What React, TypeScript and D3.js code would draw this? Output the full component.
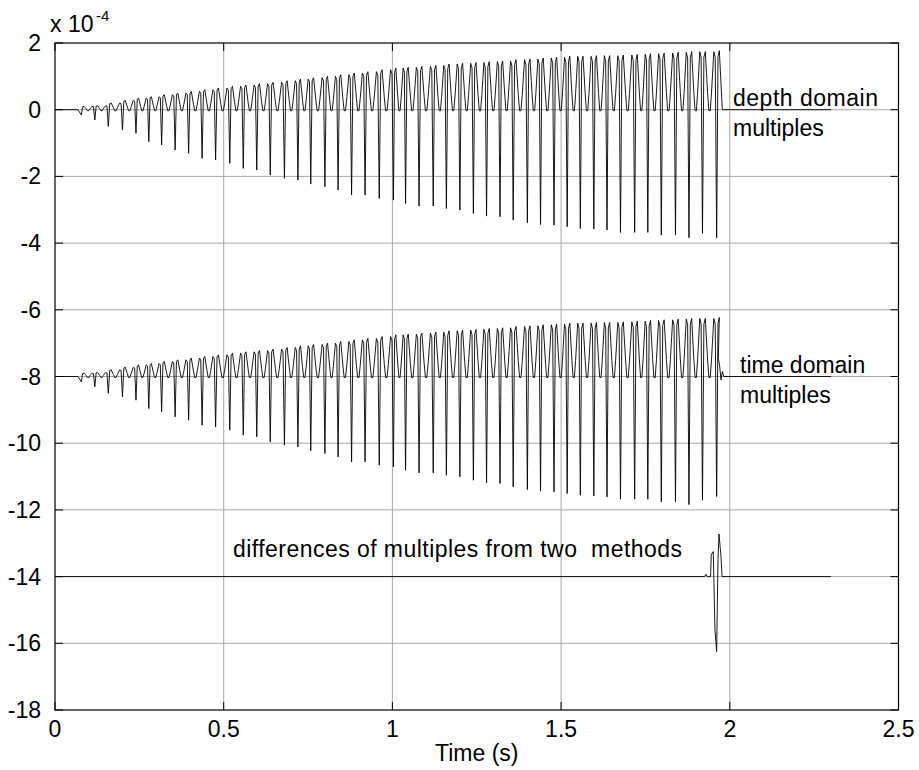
import React from "react";
import * as d3 from "d3";

const X_TICKS = [0, 0.5, 1, 1.5, 2, 2.5];
const Y_TICKS = [2, 0, -2, -4, -6, -8, -10, -12, -14, -16, -18];
const X_TICK_LABELS = ["0", "0.5", "1", "1.5", "2", "2.5"];
const Y_TICK_LABELS = ["2", "0", "-2", "-4", "-6", "-8", "-10", "-12", "-14", "-16", "-18"];

// times (s) of the downward spikes
const spikeTimes = [
  0.078, 0.118, 0.158, 0.2, 0.24, 0.278, 0.316, 0.356, 0.396, 0.436,
  0.476, 0.518, 0.558, 0.598, 0.638, 0.68, 0.72, 0.758, 0.8, 0.839,
  0.879, 0.919, 0.961, 1.003, 1.039, 1.079, 1.121, 1.16, 1.2, 1.24,
  1.279, 1.319, 1.358, 1.4, 1.439, 1.479, 1.518, 1.557, 1.597, 1.636,
  1.676, 1.718, 1.757, 1.797, 1.839, 1.879, 1.919, 1.961,
];

// depth domain multiples (x 1e-4), baseline 0
const depthTroughs = [
  -0.16, -0.31, -0.5, -0.61, -0.71, -0.96, -1.06, -1.21, -1.31, -1.46,
  -1.51, -1.61, -1.76, -1.81, -1.96, -2.06, -2.11, -2.23, -2.31, -2.41,
  -2.56, -2.56, -2.66, -2.71, -2.81, -2.89, -2.89, -2.96, -3.01, -3.11,
  -3.19, -3.21, -3.31, -3.39, -3.44, -3.46, -3.51, -3.56, -3.58, -3.61,
  -3.68, -3.68, -3.68, -3.76, -3.76, -3.84, -3.71, -3.84,
];
const depthPeaks = [
  0.1, 0.12, 0.2, 0.28, 0.35, 0.39, 0.45, 0.5, 0.55, 0.6,
  0.65, 0.7, 0.74, 0.78, 0.82, 0.87, 0.92, 0.96, 1.0, 1.05,
  1.1, 1.14, 1.2, 1.25, 1.27, 1.3, 1.33, 1.37, 1.39, 1.41,
  1.44, 1.46, 1.5, 1.52, 1.55, 1.57, 1.6, 1.6, 1.62, 1.62,
  1.64, 1.66, 1.68, 1.7, 1.72, 1.74, 1.74, 1.77,
];

// time domain multiples (x 1e-4), baseline -8
const TIME_BASE = -8;
const timeTroughs = [
  -0.16, -0.31, -0.5, -0.61, -0.71, -0.96, -1.06, -1.21, -1.31, -1.46,
  -1.51, -1.61, -1.76, -1.81, -1.96, -2.06, -2.11, -2.23, -2.31, -2.41,
  -2.56, -2.56, -2.66, -2.71, -2.81, -2.89, -2.89, -2.96, -3.01, -3.11,
  -3.19, -3.21, -3.31, -3.39, -3.44, -3.46, -3.51, -3.56, -3.58, -3.61,
  -3.68, -3.68, -3.68, -3.76, -3.76, -3.84, -3.71, -3.6,
];
const timePeaks = [
  0.1, 0.12, 0.2, 0.28, 0.35, 0.39, 0.45, 0.5, 0.55, 0.6,
  0.65, 0.7, 0.74, 0.78, 0.82, 0.87, 0.92, 0.96, 1.0, 1.05,
  1.1, 1.14, 1.2, 1.25, 1.27, 1.3, 1.33, 1.37, 1.39, 1.41,
  1.44, 1.46, 1.5, 1.52, 1.55, 1.57, 1.6, 1.6, 1.62, 1.62,
  1.64, 1.66, 1.68, 1.7, 1.72, 1.74, 1.74, 1.77,
];
const timeTailT = [1.966, 1.97, 1.974, 1.978, 1.982];
const timeTailV = [-7.45, -7.7, -8.1, -7.85, -8.0];

// differences of multiples (x 1e-4)
const diffT = [0, 1.925, 1.929, 1.933, 1.943, 1.945, 1.951, 1.956, 1.961, 1.965, 1.968, 1.974, 1.977, 2.3];
const diffV = [-14, -14, -13.93, -14, -14, -13.35, -13.25, -15.6, -16.25, -13.5, -12.72, -13.4, -14, -14];

const END_T = 2.3;

const FONT = "'Liberation Sans', Arial, sans-serif";

function buildTrace(base: number, times: number[], troughs: number[], peaks: number[], tailT: number[], tailV: number[]) {
  const pts: [number, number][] = [[0, base], [times[0] - 0.01, base]];
  const shape: [number, number, number][] = [
    // [fraction of gap, weight of peak, offset]
    [0.1, 0.9, 0],
    [0.2, 1, 0],
    [0.36, 0.3, 0],
    [0.45, 0, -0.03],
    [0.55, 0, -0.03],
    [0.64, 0.3, 0],
    [0.8, 1, 0],
    [0.9, 0.9, 0],
  ];
  times.forEach((s, i) => {
    const last = i === times.length - 1;
    const gap = last ? 0.04 : times[i + 1] - s;
    pts.push([s, base + troughs[i]]);
    if (!last) {
      shape.forEach(([f, w, o]) => pts.push([s + f * gap, base + w * peaks[i] + o]));
    } else {
      pts.push([s + 0.1 * gap, base + 0.9 * peaks[i]]);
      pts.push([s + 0.2 * gap, base + peaks[i]]);
      if (tailT.length) {
        tailT.forEach((t, j) => pts.push([t, tailV[j]]));
      } else {
        pts.push([s + 0.42 * gap, base]);
      }
    }
  });
  pts.push([END_T, base]);
  return pts;
}

export default function App() {
  const W = 919;
  const H = 770;
  const x = d3.scaleLinear().domain([0, 2.5]).range([55, 898.5]);
  const y = d3.scaleLinear().domain([-18, 2]).range([710, 43]);
  const line = d3
    .line<[number, number]>()
    .x((d) => x(d[0]))
    .y((d) => y(d[1]));

  const depth = buildTrace(0, spikeTimes, depthTroughs, depthPeaks, [], []);
  const time = buildTrace(TIME_BASE, spikeTimes, timeTroughs, timePeaks, timeTailT, timeTailV);
  const diff: [number, number][] = diffT.map((t, i) => [t, diffV[i]]);

  const [x0, x1] = x.range();
  const [yb, yt] = y.range();
  const tickLen = 8;
  const fs = 23;

  return (
    <svg
      width={W}
      height={H}
      style={{ position: "absolute", left: 0, top: 0, background: "#fff" }}
      fontFamily={FONT}
    >
      <rect x={0} y={0} width={W} height={H} fill="#fff" />
      {/* grid */}
      <g stroke="#a8a8a8" strokeWidth={1}>
        {X_TICKS.slice(1, -1).map((t) => (
          <line key={"gx" + t} x1={x(t)} x2={x(t)} y1={yt} y2={yb} />
        ))}
        {Y_TICKS.slice(1, -1).map((t) => (
          <line key={"gy" + t} x1={x0} x2={x1} y1={y(t)} y2={y(t)} />
        ))}
      </g>
      {/* data */}
      <g fill="none" stroke="#000" strokeWidth={0.9} strokeLinejoin="miter">
        <path d={line(depth) || ""} />
        <path d={line(time) || ""} />
        <path d={line(diff) || ""} />
      </g>
      {/* axes box and ticks */}
      <rect x={x0} y={yt} width={x1 - x0} height={yb - yt} fill="none" stroke="#000" strokeWidth={1.2} />
      <g stroke="#000" strokeWidth={1}>
        {X_TICKS.map((t) => (
          <g key={"tx" + t}>
            <line x1={x(t)} x2={x(t)} y1={yb} y2={yb - tickLen} />
            <line x1={x(t)} x2={x(t)} y1={yt} y2={yt + tickLen} />
          </g>
        ))}
        {Y_TICKS.map((t) => (
          <g key={"ty" + t}>
            <line x1={x0} x2={x0 + tickLen} y1={y(t)} y2={y(t)} />
            <line x1={x1} x2={x1 - tickLen} y1={y(t)} y2={y(t)} />
          </g>
        ))}
      </g>
      {/* tick labels */}
      <g fontSize={fs} fill="#000">
        {X_TICKS.map((t, i) => (
          <text key={"lx" + t} x={x(t)} y={737} textAnchor="middle">
            {X_TICK_LABELS[i]}
          </text>
        ))}
        {Y_TICKS.map((t, i) => (
          <text key={"ly" + t} x={41} y={y(t) + 8} textAnchor="end">
            {Y_TICK_LABELS[i]}
          </text>
        ))}
        <text x={50} y={32}>
          x 10
        </text>
        <text x={96} y={21} fontSize={15}>
          -4
        </text>
        <text x={(x0 + x1) / 2} y={761} textAnchor="middle">
          Time (s)
        </text>
        <text x={733} y={106} textLength={145} lengthAdjust="spacing">depth domain</text>
        <text x={733} y={136}>multiples</text>
        <text x={740} y={373}>time domain</text>
        <text x={740} y={403}>multiples</text>
        <text x={233} y={557} style={{ whiteSpace: "pre" }} textLength={449} lengthAdjust="spacing">
          differences of multiples from two  methods
        </text>
      </g>
    </svg>
  );
}
